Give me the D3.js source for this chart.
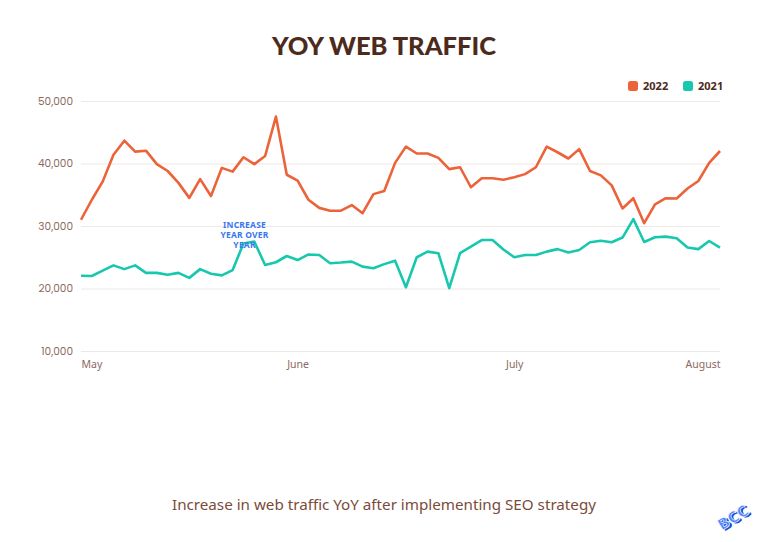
<!DOCTYPE html>
<html>
<head>
<meta charset="utf-8">
<script src="https://cdn.jsdelivr.net/npm/d3@7"></script>
<style>
  body { margin: 0; background: #fff; }
  svg { display: block; }
</style>
</head>
<body>
<div id="chart"></div>
<script>
// traffic samples, May -> August
let traffic2022 = [
    31000, 34200, 37100, 41400, 43650, 41900, 42050, 39900, 38800, 36900,
    34500, 37500, 34800, 39300, 38700, 41000, 39900, 41200, 47500, 38200,
    37250, 34200, 32900, 32450, 32450, 33350, 32050, 35100, 35600, 40100,
    42700, 41600, 41600, 40900, 39100, 39400, 36200, 37650, 37650, 37400,
    37800, 38300, 39400, 42700, 41800, 40800, 42300, 38800, 38100, 36500,
    32800, 34450, 30450, 33450, 34450, 34400, 36000, 37200, 40100, 42000
];

let traffic2021 = [
    22050, 22000, 22850, 23700, 23100, 23700, 22500, 22500, 22200, 22500,
    21700, 23100, 22350, 22100, 22950, 27200, 27500, 23750, 24200, 25200,
    24550, 25450, 25350, 24050, 24150, 24300, 23500, 23250, 23900, 24450,
    20200, 25000, 25900, 25650, 20050, 25650, 26700, 27750, 27750, 26250,
    25000, 25350, 25350, 25900, 26300, 25750, 26150, 27400, 27650, 27400,
    28150, 31100, 27450, 28200, 28300, 28050, 26550, 26300, 27600, 26550
];

let monthLabels = ['May', 'June', 'July', 'August'];
let monthIndex = [0, 20, 40, 59];

let yTicks = [10000, 20000, 30000, 40000, 50000];

let series = [
    {name: '2022', values: traffic2022, color: '#ec6239'},
    {name: '2021', values: traffic2021, color: '#17c8ae'}
];

let width = 768;
let height = 542;
let margin = {top: 101, right: 48, bottom: 191, left: 81};

let svg = d3.select('#chart').append('svg')
            .attr('width', width)
            .attr('height', height);

let x = d3.scaleLinear()
          .domain([0, traffic2022.length - 1])
          .range([margin.left, width - margin.right]);

let y = d3.scaleLinear()
          .domain([10000, 50000])
          .range([height - margin.bottom, margin.top]);

// title
svg.append('text')
    .attr('x', 384)
    .attr('y', 55)
    .attr('text-anchor', 'middle')
    .attr('font-family', 'Lato, sans-serif')
    .attr('font-weight', 900)
    .attr('font-size', 25.5)
    .attr('fill', '#4d2b1c')
    .text('YOY WEB TRAFFIC');

// grid + y labels
let yAxis = d3.axisLeft(y)
              .tickValues(yTicks)
              .tickSize(-(width - margin.left - margin.right))
              .tickPadding(8)
              .tickFormat(d3.format(','));

svg.append('g')
    .attr('transform', `translate(${margin.left},0)`)
    .call(yAxis)
    .call(g => g.select('.domain').remove())
    .call(g => g.selectAll('line').attr('stroke', '#efe7e2').attr('stroke-width', 1.2))
    .call(g => g.selectAll('text')
        .attr('font-family', 'Poppins, "Noto Sans", sans-serif')
        .attr('font-size', 10.5)
        .attr('fill', '#8b6a5e'));

// x labels
let xAxis = d3.axisBottom(x)
              .tickValues(monthIndex)
              .tickSize(0)
              .tickPadding(10)
              .tickFormat((d, i) => monthLabels[i]);

svg.append('g')
    .attr('transform', `translate(0,${height - margin.bottom})`)
    .call(xAxis)
    .call(g => g.select('.domain').remove())
    .call(g => g.selectAll('text')
        .attr('font-family', '"Noto Sans", sans-serif')
        .attr('font-size', 10.5)
        .attr('fill', '#8b6a5e')
        .attr('text-anchor', (d, i) => i == 0 ? 'start' : (i == monthIndex.length - 1 ? 'end' : 'middle')));

// lines
let line = d3.line()
             .x((d, i) => x(i))
             .y(d => y(d));

svg.selectAll('.series')
    .data(series)
    .join('path')
    .attr('class', 'series')
    .attr('d', d => line(d.values))
    .attr('fill', 'none')
    .attr('stroke', d => d.color)
    .attr('stroke-width', 2.6)
    .attr('stroke-linejoin', 'round');

// annotation
let note = ['INCREASE', 'YEAR OVER', 'YEAR'];
svg.append('text')
    .attr('x', x(15.1))
    .attr('y', y(29700))
    .attr('text-anchor', 'middle')
    .attr('font-family', '"Noto Sans", sans-serif')
    .attr('font-weight', 700)
    .attr('font-size', 8.5)
    .attr('letter-spacing', 0.2)
    .attr('fill', '#3a78f2')
    .selectAll('tspan')
    .data(note)
    .join('tspan')
    .attr('x', x(15.1))
    .attr('dy', (d, i) => i == 0 ? 0 : 10)
    .text(d => d);

// legend
let legend = svg.append('g');
let legendX = [628, 683];
series.forEach((s, i) => {
    let g = legend.append('g').attr('transform', `translate(${legendX[i]},81)`);
    g.append('rect')
        .attr('width', 10)
        .attr('height', 10)
        .attr('rx', 2.5)
        .attr('fill', s.color);
    g.append('text')
        .attr('x', 15)
        .attr('y', 9)
        .attr('font-family', '"Noto Sans", sans-serif')
        .attr('font-weight', 700)
        .attr('font-size', 11)
        .attr('fill', '#4d2b1c')
        .text(s.name);
});

// caption
svg.append('text')
    .attr('x', 384)
    .attr('y', 510)
    .attr('text-anchor', 'middle')
    .attr('font-family', '"Noto Sans", sans-serif')
    .attr('font-size', 15.2)
    .attr('fill', '#7b4b3a')
    .text('Increase in web traffic YoY after implementing SEO strategy');

// logo
let logo = svg.append('g').attr('transform', 'translate(736,522) rotate(-32)');
logo.append('text')
    .attr('x', 1.5).attr('y', 2)
    .attr('text-anchor', 'middle')
    .attr('font-family', '"DejaVu Sans", sans-serif')
    .attr('font-weight', 900)
    .attr('font-size', 15)
    .attr('fill', '#1f4fd0')
    .text('BCC');
logo.append('text')
    .attr('text-anchor', 'middle')
    .attr('font-family', '"DejaVu Sans", sans-serif')
    .attr('font-weight', 900)
    .attr('font-size', 15)
    .attr('fill', '#4a86ff')
    .attr('stroke', '#ffffff')
    .attr('stroke-width', 0.6)
    .text('BCC');
</script>
</body>
</html>
